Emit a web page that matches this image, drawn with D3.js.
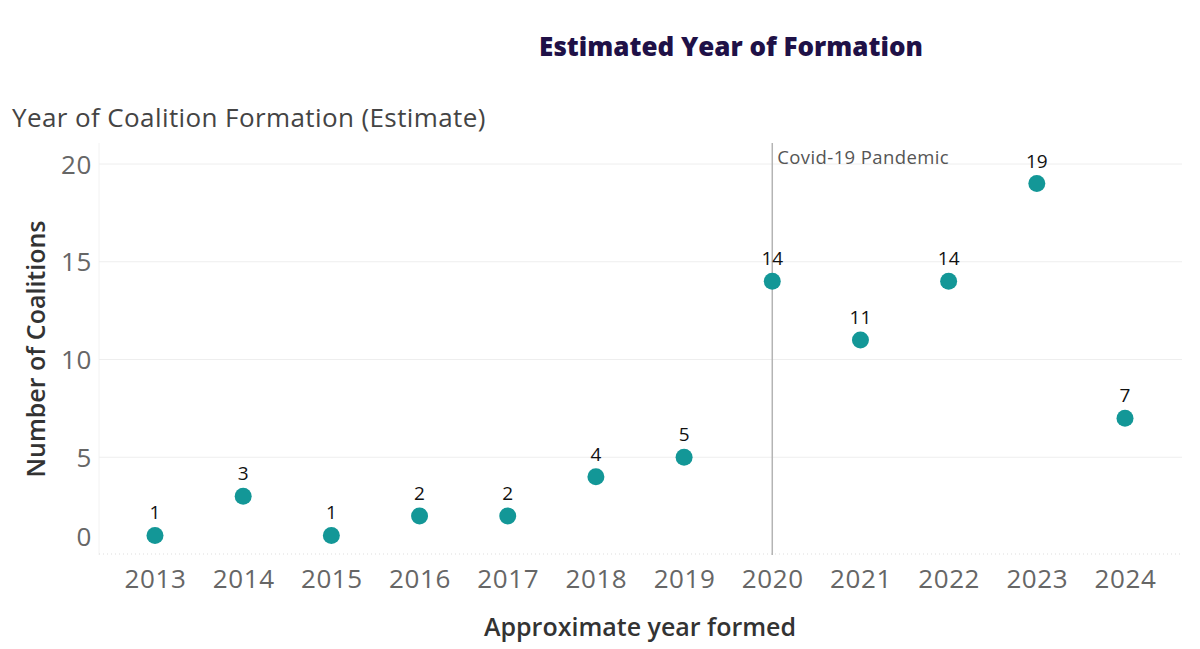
<!DOCTYPE html>
<html><head><meta charset="utf-8">
<script src="https://cdn.jsdelivr.net/npm/d3@7"></script>
<style>body{margin:0;background:#fff}svg{display:block}</style>
</head><body>
<svg id="c" width="1200" height="649"></svg>
<script>
const years = ["2013","2014","2015","2016","2017","2018","2019","2020","2021","2022","2023","2024"];
const counts = [1,3,1,2,2,4,5,14,11,14,19,7];
const yTicks = [0,5,10,15,20];
const markerYear = "2020";
const markerLabel = "Covid-19 Pandemic";

const svg = d3.select("#c");
const F = "'Open Sans', Lato, sans-serif";
const pane = {left:99, right:1182, top:143, bottom:555};

const x = d3.scalePoint().domain(years).range([155,1125]);
const y = d3.scaleLinear().domain([0,20]).range([555,164]);

// titles
svg.append("text").attr("x",731).attr("y",56).attr("text-anchor","middle")
  .attr("font-family",F).attr("font-weight",800).attr("font-size",26).attr("fill","#1f1147")
  .text("Estimated Year of Formation");
svg.append("text").attr("x",12).attr("y",127)
  .attr("font-family",F).attr("font-size",26).attr("letter-spacing",0.4).attr("fill","#444")
  .text("Year of Coalition Formation (Estimate)");

// pane left border
svg.append("line").attr("x1",pane.left).attr("x2",pane.left).attr("y1",pane.top).attr("y2",pane.bottom)
  .attr("stroke","#f2f2f2");

// gridlines
svg.append("g").selectAll("line").data(yTicks.filter(d=>d>0)).join("line")
  .attr("x1",pane.left).attr("x2",pane.right).attr("y1",d=>y(d)).attr("y2",d=>y(d))
  .attr("stroke","#eeeeee").attr("stroke-width",1);
// bottom dotted zero line
svg.append("line").attr("x1",pane.left).attr("x2",pane.right).attr("y1",y(0)-1).attr("y2",y(0)-1)
  .attr("stroke","#dddddd").attr("stroke-dasharray","1,3");

// y axis
const yAxis = svg.append("g").attr("transform",`translate(${pane.left},0)`)
  .call(d3.axisLeft(y).tickValues(yTicks).tickSize(0).tickPadding(7));
yAxis.select(".domain").remove();
yAxis.selectAll("text").attr("font-family",F).attr("font-size",26).attr("letter-spacing",0.6).attr("fill","#666")
  .attr("dy",d=> d===0 ? "-0.35em" : "0.35em");

// x axis
const xAxis = svg.append("g").attr("transform",`translate(0,${pane.bottom})`)
  .call(d3.axisBottom(x).tickSize(0).tickPadding(15));
xAxis.select(".domain").remove();
xAxis.selectAll("text").attr("font-family",F).attr("font-size",26).attr("letter-spacing",0.6).attr("fill","#666");

// axis titles
svg.append("text").attr("x",640).attr("y",636).attr("text-anchor","middle")
  .attr("font-family",F).attr("font-weight",600).attr("font-size",25).attr("fill","#333")
  .text("Approximate year formed");
svg.append("text").attr("transform","translate(45,349) rotate(-90)").attr("text-anchor","middle")
  .attr("font-family",F).attr("font-weight",600).attr("font-size",25).attr("fill","#333")
  .text("Number of Coalitions");

// covid reference line
svg.append("line").attr("x1",x(markerYear)).attr("x2",x(markerYear)).attr("y1",pane.top).attr("y2",pane.bottom)
  .attr("stroke","#b4b4b4").attr("stroke-width",1.5);
svg.append("text").attr("x",x(markerYear)+5).attr("y",164)
  .attr("font-family",F).attr("font-size",18.5).attr("letter-spacing",0.4).attr("fill","#555").text(markerLabel);

// dots
const data = years.map((yr,i)=>({yr, v:counts[i]}));
svg.append("g").selectAll("circle").data(data).join("circle")
  .attr("cx",d=>x(d.yr)).attr("cy",d=>y(d.v)).attr("r",8.5).attr("fill","#139797");
svg.append("g").selectAll("text").data(data).join("text")
  .attr("x",d=>x(d.yr)).attr("y",d=>y(d.v)-16).attr("text-anchor","middle")
  .attr("font-family",F).attr("font-size",19).attr("fill","#111").text(d=>d.v);
</script>
</body></html>
